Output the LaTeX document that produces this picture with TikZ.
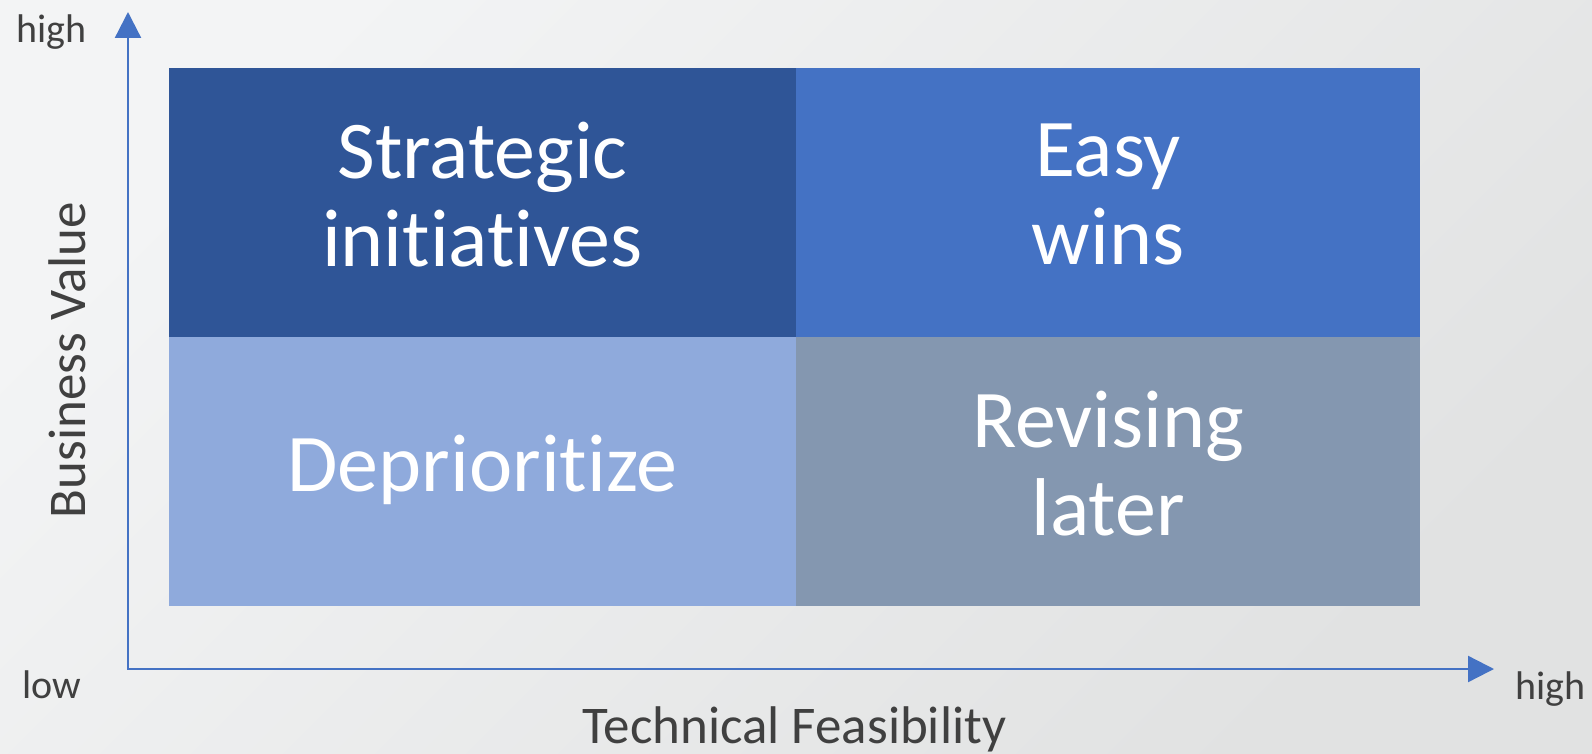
\documentclass[tikz,border=0pt]{standalone}
\usepackage{fontspec}
\setmainfont{Carlito}[Ligatures={NoCommon,NoRare,NoDiscretionary,NoContextual}]
\usetikzlibrary{arrows.meta}

\definecolor{stratblue}{HTML}{2F5597}
\definecolor{easyblue}{HTML}{4472C4}
\definecolor{depriblue}{HTML}{8FAADC}
\definecolor{revisegray}{HTML}{8497B0}
\definecolor{axisblue}{HTML}{4472C4}
\definecolor{labelgray}{HTML}{404040}
\definecolor{bgtop}{HTML}{F3F4F5}
\definecolor{bgbottom}{HTML}{E1E2E2}

\tikzset{
	quad/.style={rectangle, inner sep=0pt, minimum height=269pt, text=white, align=center,
		font=\fontsize{82}{88}\selectfont, text depth=16pt},
	axislabel/.style={text=labelgray, inner sep=0pt, font=\fontsize{40}{48}\selectfont},
	axistitle/.style={text=labelgray, inner sep=0pt, font=\fontsize{53}{64}\selectfont},
	axisline/.style={draw=axisblue, line width=2.3pt, line join=miter},
}

\begin{document}
\begin{tikzpicture}[x=1pt, y=-1pt]
		% Background
		\shade[top color=bgtop, bottom color=bgbottom, shading angle=45] (0,0) rectangle (1592,754);
		\useasboundingbox (0,0) rectangle (1592,754);

		% Quadrants
		\node[quad, fill=stratblue, minimum width=627pt] (strategic) at (482.5,202.5) {Strategic\\initiatives};
		\node[quad, fill=easyblue, minimum width=624pt] (easy) at (1108,202.5) {Easy\\wins};
		\node[quad, fill=depriblue, minimum width=627pt] (depri) at (482.5,471.5) {Deprioritize};
		\node[quad, fill=revisegray, minimum width=624pt] (revise) at (1108,471.5) {Revising\\later};

		% Axes
		\coordinate (origin) at (128,669);
		\coordinate (ytip) at (128,12);
		\coordinate (xtip) at (1494,669);
		\draw[axisline, {Triangle[length=26pt, width=26pt]}-{Triangle[length=26pt, width=26pt]}] (ytip) -- (origin) -- (xtip);

		% Labels
		\node[axislabel, anchor=base] (yhigh) at (51.5,43) {high};
		\node[axislabel, anchor=base] (low) at (51.5,698) {low};
		\node[axislabel, anchor=base] (xhigh) at (1550,699) {high};
		\node[axistitle, anchor=base] (xtitle) at (794.5,743) {Technical Feasibility};
		\node[axistitle, anchor=base, rotate=90] (ytitle) at (85,360) {Business Value};

	\end{tikzpicture}
\end{document}
